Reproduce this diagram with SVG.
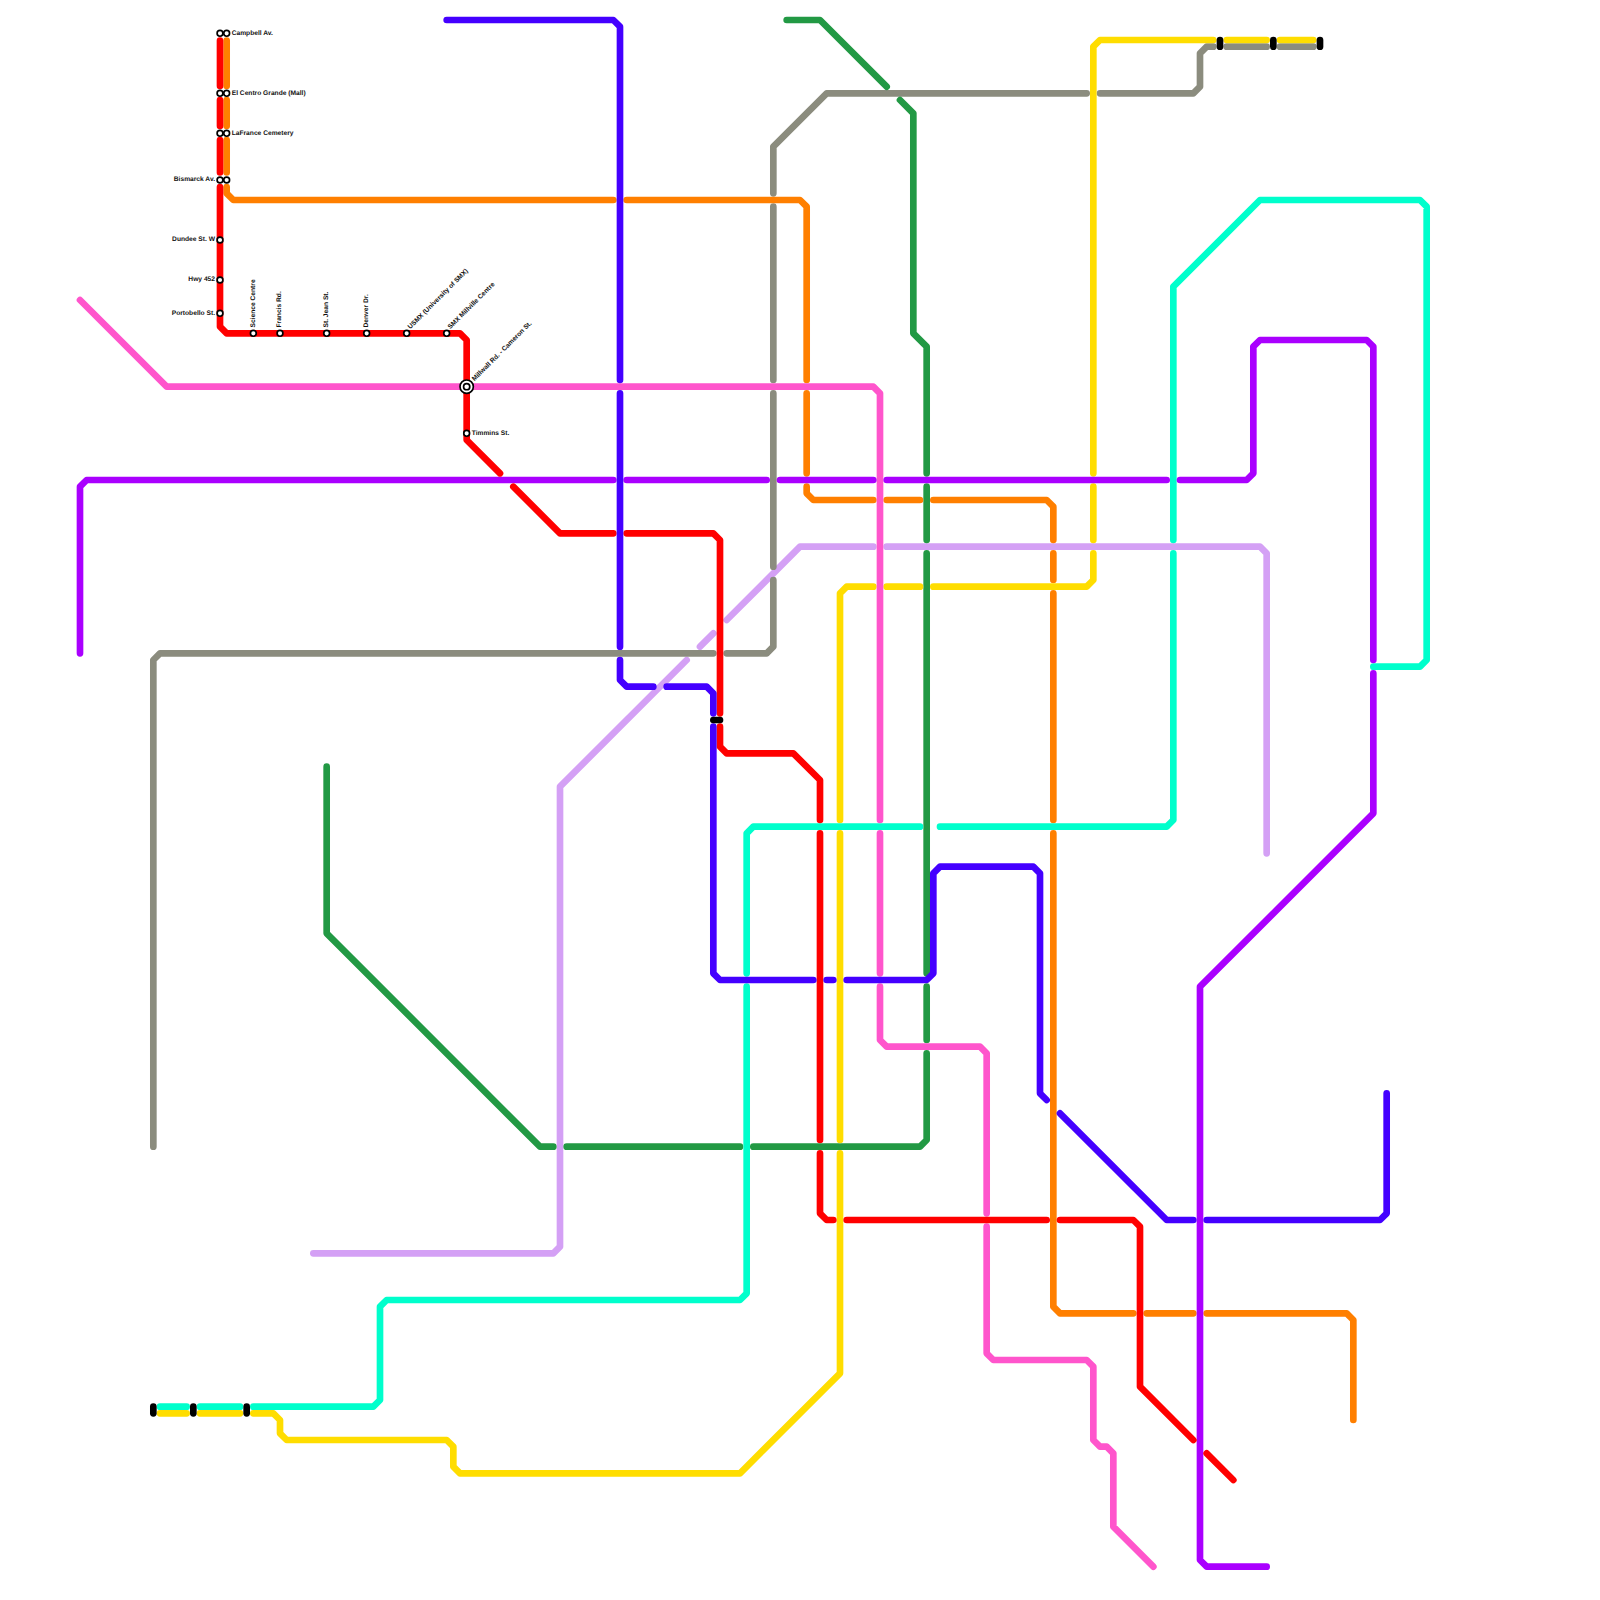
<svg xmlns="http://www.w3.org/2000/svg" width="1600" height="1600" viewBox="0 0 1600 1600">
<style>
.l{fill:none;stroke-width:6.67;stroke-linecap:round;stroke-linejoin:round}
.red{stroke:#ff0000}.ora{stroke:#ff7f00}.blu{stroke:#4400ff}.pur{stroke:#aa00ff}.pin{stroke:#ff55cc}
.gra{stroke:#8b8c7e}.gre{stroke:#229944}.cya{stroke:#00ffcc}.yel{stroke:#ffdd00}.lil{stroke:#d4a0f5}
.bar{fill:none;stroke:#000;stroke-width:6.67;stroke-linecap:round}
.st{fill:#fff;stroke:#000;stroke-width:1.67}
text{font-family:"Liberation Sans",Arial,sans-serif;font-size:6.67px;font-weight:bold;fill:#111;dominant-baseline:central;text-rendering:geometricPrecision}
.e{text-anchor:end}
</style>
<g id="connectors">
<path class="l lil" d="M313.33 1253.33H553.33L560 1246.67V786.67L686.67 660M700 646.67L713.33 633.33M726.67 620L800 546.67H873.33M886.67 546.67H1260L1266.67 553.33V853.33"/>
<path class="l gra" d="M153.33 1146.67V660L160 653.33H713.33M726.67 653.33H766.67L773.33 646.67V580M773.33 566.67V393.33M773.33 380V206.67M773.33 193.33V146.67L826.67 93.33H1086.67M1100 93.33H1193.33L1200 86.67V53.33L1206.67 46.67H1213.33M1226.67 46.67H1266.67M1280 46.67H1313.33"/>
<path class="l gre" d="M326.67 766.67V933.33L540 1146.67H553.33M566.67 1146.67H740M753.33 1146.67H920L926.67 1140V1053.33M926.67 1040V986.67M926.67 973.33V553.33M926.67 540V486.67M926.67 473.33V346.67L913.33 333.33V113.33L900 100M886.67 86.67L820 20H786.67"/>
<path class="l ora" d="M226.67 40.5V86M226.67 100V126M226.67 140V172.5M226.67 187V193.33L233.33 200H613.33M626.67 200H800L806.67 206.67V380M806.67 393.33V473.33M806.67 486.67V493.33L813.33 500H873.33M886.67 500H920M933.33 500H1046.67L1053.33 506.67V540M1053.33 553.33V580M1053.33 593.33V820M1053.33 833.33V1306.67L1060 1313.33H1133.33M1146.67 1313.33H1193.33M1206.67 1313.33H1346.67L1353.33 1320V1420"/>
<path class="l yel" d="M160 1413.33H186.67M200 1413.33H240M253.33 1413.33H273.33L280 1420V1433.33L286.67 1440H446.67L453.33 1446.67V1466.67L460 1473.33H740L840 1373.33V1153.33M840 1140V833.33M840 820V593.33L846.67 586.67H873.33M886.67 586.67H920M933.33 586.67H1086.67L1093.33 580V553.33M1093.33 540V486.67M1093.33 473.33V46.67L1100 40H1213.33M1226.67 40H1266.67M1280 40H1313.33"/>
<path class="l cya" d="M160 1406.67H186.67M200 1406.67H240M253.33 1406.67H373.33L380 1400V1306.67L386.67 1300H740L746.67 1293.33V986.67M746.67 973.33V833.33L753.33 826.67H920M940 826.67H1166.67L1173.33 820V553.33M1173.33 540V286.67L1260 200H1420L1426.67 206.67V660L1420 666.67H1373.33"/>
<path class="l pin" d="M80 300L166.67 386.67H460M473.33 386.67H873.33L880 393.33V820M880 833.33V973.33M880 986.67V1040L886.67 1046.67H980L986.67 1053.33V1213.33M986.67 1226.67V1353.33L993.33 1360H1086.67L1093.33 1366.67V1440L1100 1446.67H1106.67L1113.33 1453.33V1526.67L1153.33 1566.67"/>
<path class="l pur" d="M80 653.33V486.67L86.67 480H613.33M626.67 480H766.67M780 480H873.33M886.67 480H1166.67M1180 480H1246.67L1253.33 473.33V346.67L1260 340H1366.67L1373.33 346.67V660M1373.33 673.33V813.33L1200 986.67V1560L1206.67 1566.67H1266.67"/>
<path class="l red" d="M220 40.5V86M220 100V126M220 140V172.5M220 187V326.67L226.67 333.33H460L466.67 340V440L500 473.33M513.33 486.67L560 533.33H613.33M626.67 533.33H713.33L720 540V713.33M720 726.67V746.67L726.67 753.33H793.33L820 780V820M820 833.33V1140M820 1153.33V1213.33L826.67 1220H833.33M846.67 1220H1046.67M1060 1220H1133.33L1140 1226.67V1386.67L1193.33 1440M1206.67 1453.33L1233.33 1480"/>
<path class="l blu" d="M446.67 20H613.33L620 26.67V380M620 393.33V646.67M620 660V680L626.67 686.67H653.33M666.67 686.67H706.67L713.33 693.33V713.33M713.33 726.67V973.33L720 980H813.33M826.67 980H833.33M846.67 980H926.67L933.33 973.33V873.33L940 866.67H1033.33L1040 873.33V1093.33L1046.67 1100M1060 1113.33L1166.67 1220H1193.33M1206.67 1220H1380L1386.67 1213.33V1093.33"/>
</g>
<g id="transfers">
<path class="bar" d="M713.33 720H720"/>
<path class="bar" d="M1220 40V46.67"/>
<path class="bar" d="M1273.33 40V46.67"/>
<path class="bar" d="M1320 40V46.67"/>
<path class="bar" d="M153.33 1406.67V1413.33"/>
<path class="bar" d="M193.33 1406.67V1413.33"/>
<path class="bar" d="M246.67 1406.67V1413.33"/>
</g>
<g id="campbell"><circle class="st" cx="220" cy="33.33" r="2.9"/><circle class="st" cx="226.67" cy="33.33" r="2.9"/><text x="231.7" y="33.1">Campbell Av.</text></g>
<g id="el-centro"><circle class="st" cx="220" cy="93.33" r="2.9"/><circle class="st" cx="226.67" cy="93.33" r="2.9"/><text x="231.7" y="93.1">El Centro Grande (Mall)</text></g>
<g id="lafrance"><circle class="st" cx="220" cy="133.33" r="2.9"/><circle class="st" cx="226.67" cy="133.33" r="2.9"/><text x="231.7" y="133.1">LaFrance Cemetery</text></g>
<g id="bismarck"><circle class="st" cx="220" cy="180" r="2.9"/><circle class="st" cx="226.67" cy="180" r="2.9"/><text class="e" x="215" y="179.8">Bismarck Av.</text></g>
<g id="dundee"><circle class="st" cx="220" cy="240" r="2.9"/><text class="e" x="215" y="239.8">Dundee St. W</text></g>
<g id="hwy452"><circle class="st" cx="220" cy="280" r="2.9"/><text class="e" x="215" y="279.8">Hwy 452</text></g>
<g id="portobello"><circle class="st" cx="220" cy="313.33" r="2.9"/><text class="e" x="215" y="313.1">Portobello St.</text></g>
<g id="science"><circle class="st" cx="253.33" cy="333.33" r="2.9"/><text transform="translate(253 327.5) rotate(-90)">Science Centre</text></g>
<g id="francis"><circle class="st" cx="280" cy="333.33" r="2.9"/><text transform="translate(279.7 327.5) rotate(-90)">Francis Rd.</text></g>
<g id="st-jean"><circle class="st" cx="326.67" cy="333.33" r="2.9"/><text transform="translate(326.4 327.5) rotate(-90)">St. Jean St.</text></g>
<g id="denver"><circle class="st" cx="366.67" cy="333.33" r="2.9"/><text transform="translate(366.4 327.5) rotate(-90)">Denver Dr.</text></g>
<g id="usmx"><circle class="st" cx="406.67" cy="333.33" r="2.9"/><text transform="translate(409.3 328.3) rotate(-45)">USMX (University of SMX)</text></g>
<g id="smx-millville"><circle class="st" cx="446.67" cy="333.33" r="2.9"/><text transform="translate(449.3 328.3) rotate(-45)">SMX Millville Centre</text></g>
<g id="millwall"><circle class="st" cx="466.67" cy="386.67" r="6.67"/><circle class="st" cx="466.67" cy="386.67" r="3.1"/><text transform="translate(473.4 380.3) rotate(-45)">Millwall Rd. - Cameron St.</text></g>
<g id="timmins"><circle class="st" cx="466.67" cy="433.33" r="2.9"/><text x="471.7" y="433.1">Timmins St.</text></g>
</svg>
